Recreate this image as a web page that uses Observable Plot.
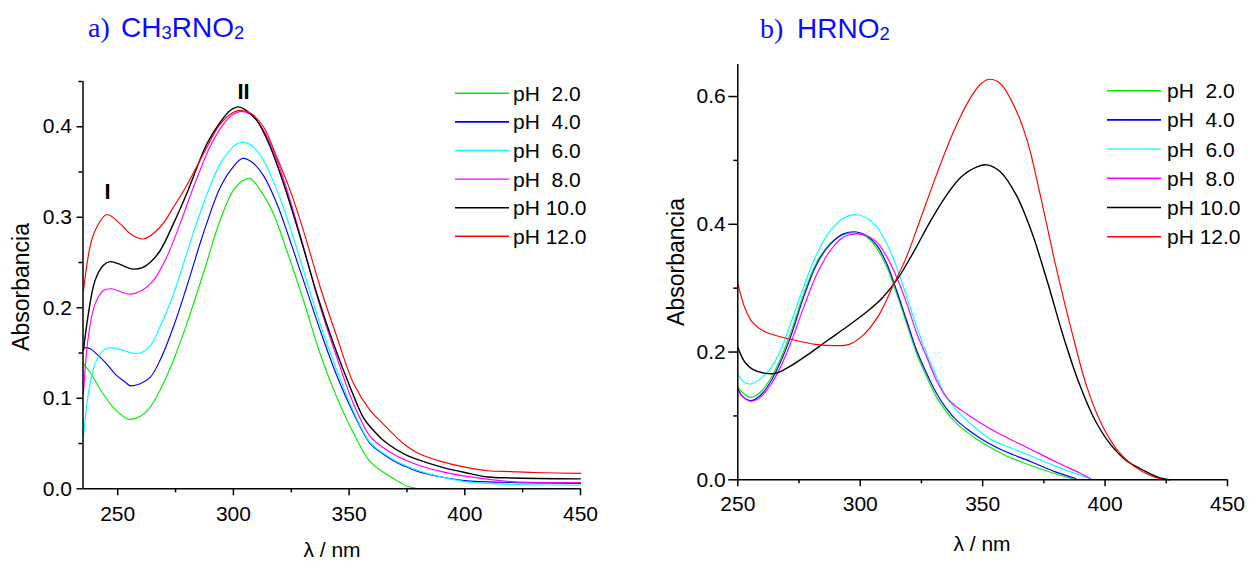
<!DOCTYPE html>
<html><head><meta charset="utf-8">
<script src="https://cdn.jsdelivr.net/npm/d3@7"></script>
<script src="https://cdn.jsdelivr.net/npm/@observablehq/plot@0.6"></script>
<style>
body{margin:0;background:#fff;}
#wrap{position:relative;width:1249px;height:561px;overflow:hidden;font-family:"Liberation Sans",Arial,sans-serif;background:#fff;}
#wrap svg text{white-space:pre;}
</style></head><body><div id="wrap"></div>
<script>
// ---------- labels & series ----------
const pHLabels = ["pH  2.0","pH  4.0","pH  6.0","pH  8.0","pH 10.0","pH 12.0"];
const seriesColors = ["#00ee00","#0000ff","#00ffff","#ff00ff","#000000","#ff0000"];

// Panel a) CH3RNO2 : [wavelength nm, absorbance]
const a_pH2 = [[235.2,0.138],[238,0.129],[242.4,0.110],[248.1,0.090],[254.6,0.077],[259.7,0.080],[264,0.090],[268.3,0.109],[274.1,0.142],[279.8,0.182],[287,0.238],[294.3,0.297],[300,0.330],[304.4,0.341],[307.2,0.343],[311.6,0.330],[317.3,0.304],[323.1,0.263],[330.3,0.208],[337.5,0.149],[344.7,0.101],[352,0.061],[359.1,0.030],[365,0.018],[370,0.010],[375,0.003],[380,0.0]];
const a_pH4 = [[235.2,0.156],[238,0.155],[240.9,0.149],[245.2,0.138],[249.6,0.125],[253.2,0.118],[255.3,0.114],[259.7,0.116],[264,0.123],[268.3,0.142],[274.1,0.179],[279.8,0.223],[287,0.282],[294.3,0.333],[300,0.356],[304,0.365],[308,0.361],[313,0.346],[318.8,0.315],[324.5,0.274],[330.3,0.230],[337.5,0.175],[344.7,0.125],[352,0.083],[359.1,0.050],[365,0.038],[370,0.030],[375,0.024],[380,0.019],[390,0.013],[400,0.009],[420,0.007],[450,0.006]];
const a_pH6 = [[235.2,0.057],[237.3,0.105],[240.2,0.138],[243.8,0.153],[246.7,0.156],[251,0.154],[256,0.150],[259.7,0.150],[264,0.158],[268.3,0.179],[274.1,0.215],[279.8,0.260],[287,0.315],[294.3,0.359],[300,0.378],[303.6,0.383],[308,0.379],[313,0.363],[318.8,0.330],[324.5,0.289],[330.3,0.241],[337.5,0.182],[344.7,0.131],[352,0.085],[359.1,0.051],[365,0.039],[370,0.031],[375,0.025],[380,0.020],[390,0.013],[400,0.008],[420,0.005],[450,0.004]];
const a_pH8 = [[235.2,0.105],[237.3,0.168],[240.2,0.204],[243.8,0.219],[247.4,0.221],[251,0.218],[255.3,0.215],[260.4,0.219],[265.4,0.230],[271.2,0.256],[277,0.293],[282.7,0.333],[289.9,0.378],[295.7,0.403],[300,0.414],[303.6,0.417],[307.9,0.413],[313,0.396],[318.8,0.363],[324.5,0.319],[330.3,0.267],[337.5,0.201],[344.7,0.145],[351.9,0.094],[359.1,0.058],[365,0.045],[370,0.037],[375,0.031],[380,0.026],[390,0.019],[400,0.014],[420,0.008],[450,0.007]];
const a_pH10 = [[235.2,0.153],[237.3,0.193],[240.2,0.230],[243.8,0.247],[246.7,0.251],[251,0.248],[256,0.243],[260.4,0.244],[264,0.250],[268.3,0.263],[274.1,0.293],[279.8,0.326],[288.5,0.381],[294.3,0.405],[298.6,0.418],[302.2,0.422],[305,0.419],[310.1,0.407],[315.9,0.378],[321.7,0.337],[328.9,0.278],[336.1,0.215],[343.3,0.160],[350.5,0.112],[356.3,0.078],[360,0.066],[365,0.053],[370,0.044],[375,0.037],[380,0.032],[390,0.024],[400,0.018],[410,0.013],[420,0.012],[450,0.011]];
const a_pH12 = [[235.2,0.219],[238,0.267],[240.2,0.285],[245.2,0.303],[251,0.293],[255.3,0.282],[261.1,0.276],[268.3,0.289],[274.1,0.311],[279.8,0.335],[287,0.370],[294.3,0.403],[300,0.416],[303.6,0.418],[308,0.414],[313,0.400],[318.8,0.366],[324.5,0.330],[330.3,0.285],[337.5,0.223],[344.7,0.168],[352,0.116],[359,0.087],[365,0.071],[370,0.058],[375,0.047],[380,0.039],[390,0.030],[400,0.024],[410,0.020],[420,0.019],[430,0.018],[450,0.017]];

// Panel b) HRNO2
const b_pH2 = [[250,0.145],[252.4,0.135],[255.2,0.129],[259.2,0.137],[263.3,0.158],[267.4,0.189],[271.5,0.229],[276.9,0.291],[282.3,0.341],[287.8,0.370],[293.2,0.384],[298.6,0.386],[302.7,0.380],[306.8,0.362],[310.9,0.333],[314.9,0.291],[319,0.244],[323.1,0.197],[327.2,0.161],[331.2,0.129],[335.3,0.106],[339.4,0.088],[343.5,0.075],[347.5,0.064],[353,0.051],[360,0.037],[370,0.022],[380,0.009],[388,0.0]];
const b_pH4 = [[250,0.142],[252.4,0.129],[255.2,0.124],[259.2,0.132],[263.3,0.153],[267.4,0.184],[271.5,0.223],[276.9,0.286],[282.3,0.338],[287.8,0.369],[293.2,0.385],[298.6,0.388],[302.7,0.382],[306.8,0.367],[310.9,0.338],[314.9,0.296],[319,0.249],[323.1,0.202],[327.2,0.166],[331.2,0.135],[335.3,0.111],[339.4,0.093],[343.5,0.080],[347.5,0.069],[353,0.056],[360,0.043],[370,0.028],[380,0.012],[388,0.002]];
const b_pH6 = [[250,0.166],[252.4,0.153],[255.2,0.150],[259.2,0.158],[263.3,0.174],[267.4,0.202],[271.5,0.244],[276.9,0.302],[282.3,0.354],[287.8,0.390],[293.2,0.410],[298.6,0.415],[302.7,0.410],[306.8,0.396],[310.9,0.369],[314.9,0.333],[319,0.286],[323.1,0.239],[327.2,0.197],[331.2,0.161],[335.3,0.129],[339.4,0.109],[343.5,0.093],[347.5,0.080],[353,0.064],[360,0.052],[370,0.037],[380,0.021],[390,0.007],[395,0.0]];
const b_pH8 = [[250,0.140],[252.4,0.129],[255.2,0.123],[259.2,0.129],[263.3,0.148],[267.4,0.176],[271.5,0.213],[276.9,0.270],[282.3,0.322],[287.8,0.359],[293.2,0.380],[298.6,0.385],[302.7,0.382],[306.8,0.372],[310.9,0.349],[314.9,0.317],[319,0.276],[323.1,0.229],[327.2,0.192],[331.2,0.155],[335.3,0.129],[339.4,0.114],[343.5,0.103],[347.5,0.093],[353,0.080],[360,0.066],[370,0.047],[380,0.028],[390,0.010],[394,0.002]];
const b_pH10 = [[250,0.207],[252.9,0.184],[256.1,0.173],[260.9,0.167],[265.7,0.167],[270.6,0.176],[278.6,0.196],[286.6,0.218],[294.7,0.240],[302.7,0.263],[309.1,0.285],[315.5,0.316],[322,0.358],[328.4,0.403],[334.8,0.443],[341.2,0.474],[347.7,0.490],[351.7,0.493],[357.3,0.482],[363.7,0.446],[370.1,0.387],[376.6,0.308],[383,0.224],[389.4,0.151],[395.8,0.094],[402.3,0.055],[408.7,0.030],[415.1,0.016],[421.5,0.004],[426.4,0.0]];
const b_pH12 = [[250,0.308],[252.9,0.269],[256.1,0.246],[260.9,0.232],[267.3,0.224],[273.8,0.218],[281.8,0.212],[289.8,0.210],[295.5,0.212],[301.1,0.226],[307.5,0.257],[313.9,0.308],[318.7,0.347],[325.2,0.415],[331.6,0.482],[338,0.544],[344.4,0.594],[349.3,0.620],[352.8,0.627],[357.3,0.620],[363.7,0.578],[368.5,0.527],[373.4,0.448],[379.8,0.336],[386.2,0.235],[392.6,0.145],[399.1,0.083],[405.5,0.044],[411.9,0.021],[418.3,0.007],[424,0.0]];

// ticks
const aTicksX = [250,300,350,400,450];
const aMinorX = [275,325,375,425];
const aTicksY = [0,0.1,0.2,0.3,0.4];
const aMinorY = [0.05,0.15,0.25,0.35,0.45];
const bTicksX = [250,300,350,400,450];
const bMinorX = [275,325,375,425];
const bTicksY = [0,0.2,0.4,0.6];
const bMinorY = [0.1,0.3,0.5];

// band annotations on panel a
const bandNames = ["I","II"];
const bandWl = [245.6,304.4];
const bandAbs = [0.3285,0.439];

const FONT = '"Liberation Sans", Arial, sans-serif';
const wrap = document.getElementById("wrap");

function drawPanel(o){
  const marks = [
    ...o.series.map((s,i)=>Plot.line(s,{x:d=>d[0],y:d=>d[1],stroke:seriesColors[i],strokeWidth:i===4?1.4:1.15,curve:"catmull-rom"})),
    Plot.ruleX([o.xDomain[0]],{stroke:"#000",strokeWidth:1.5}),
    Plot.ruleY([0],{stroke:"#000",strokeWidth:1.5}),
    Plot.axisX(o.xTicks,{tickSize:o.xTickSize,tickPadding:o.xTickPad,tickFormat:d=>String(d),fontSize:21,strokeWidth:1.5,label:null}),
    Plot.axisX(o.xMinor,{tickSize:4,text:null,strokeWidth:1.5,label:null}),
    Plot.axisY(o.yTicks,{tickSize:o.yTickSize,tickPadding:o.yTickPad,tickFormat:d3.format(".1f"),fontSize:21,strokeWidth:1.5,label:null}),
    Plot.axisY(o.yMinor,{tickSize:4,text:null,strokeWidth:1.5,label:null}),
    ...(o.extra||[])
  ];
  const p = Plot.plot({
    width:o.width,height:561,
    marginLeft:o.ml,marginRight:o.mr,marginTop:o.mt,marginBottom:o.mb,
    x:{domain:o.xDomain,label:null},
    y:{domain:o.yDomain,label:null},
    style:{fontFamily:FONT,color:"#000",background:"transparent",overflow:"visible"},
    marks
  });
  p.style.position="absolute"; p.style.left=o.left+"px"; p.style.top="0px";
  wrap.append(p);
}

const bands = bandNames.map((n,i)=>({name:n,wl:bandWl[i],abs:bandAbs[i]}));

drawPanel({
  series:[a_pH2,a_pH4,a_pH6,a_pH8,a_pH10,a_pH12],
  left:0,width:620,ml:82.5,mr:40,mt:81,mb:72.7,
  xDomain:[235,450],yDomain:[0,0.45],
  xTicks:aTicksX,xMinor:aMinorX,yTicks:aTicksY,yMinor:aMinorY,
  xTickSize:7,xTickPad:10,yTickSize:6,yTickPad:5,
  extra:[Plot.text(bands,{x:"wl",y:"abs",text:"name",fontSize:22,fontWeight:"bold",fill:"#000"})]
});
drawPanel({
  series:[b_pH2,b_pH4,b_pH6,b_pH8,b_pH10,b_pH12],
  left:624,width:625,ml:113.3,mr:22,mt:64.1,mb:81.7,
  xDomain:[250,450],yDomain:[0,0.65],
  xTicks:bTicksX,xMinor:bMinorX,yTicks:bTicksY,yMinor:bMinorY,
  xTickSize:7,xTickPad:9,yTickSize:9,yTickPad:3
});

// ---------- overlay: titles, axis labels, legends ----------
const ov = d3.create("svg").attr("width",1249).attr("height",561)
  .style("position","absolute").style("left","0").style("top","0")
  .style("font-family",FONT);

function title(x, y, prefix, parts, xMain){
  const t = ov.append("text").attr("x",x).attr("y",y).attr("font-size",28).attr("fill","#0a0aff");
  t.append("tspan").attr("font-family",'"Liberation Serif","Times New Roman",serif').text(prefix);
  let prevSub = false, first = true;
  for (const [s, sub] of parts){
    const ts = t.append("tspan").text(s);
    if (first){ ts.attr("x",xMain); first=false; }
    if (sub){ ts.attr("font-size","0.66em").attr("dy",2); }
    else if (prevSub){ ts.attr("dy",-2); }
    prevSub = sub;
  }
}
title(88,37,"a)",[["CH",false],["3",true],["RNO",false],["2",true]],121);
title(760,38,"b)",[["HRNO",false],["2",true]],797);

function ylabel(cx, cy){
  ov.append("text").attr("transform",`translate(${cx},${cy}) rotate(-90)`)
    .attr("text-anchor","middle").attr("dominant-baseline","central")
    .attr("font-size",23).attr("fill","#000").text("Absorbancia");
}
ylabel(21,287); ylabel(676,262);

function xlabel(cx, by){
  ov.append("text").attr("x",cx).attr("y",by).attr("text-anchor","middle")
    .attr("font-size",21).attr("fill","#000").text("λ / nm");
}
xlabel(332,557); xlabel(982,551);

function legend(x1, x2, tx, y0, dy){
  pHLabels.forEach((lab,i)=>{
    const y = y0 + i*dy;
    ov.append("line").attr("x1",x1).attr("x2",x2).attr("y1",y).attr("y2",y)
      .attr("stroke",seriesColors[i]).attr("stroke-width",i===1?1.8:1.4);
    ov.append("text").attr("x",tx).attr("y",y+7.5).attr("font-size",21).attr("fill","#000").text(lab);
  });
}
legend(455,509,513,93.3,28.6);
legend(1107,1161,1167,90.7,29.2);

wrap.append(ov.node());
</script>
</body></html>
